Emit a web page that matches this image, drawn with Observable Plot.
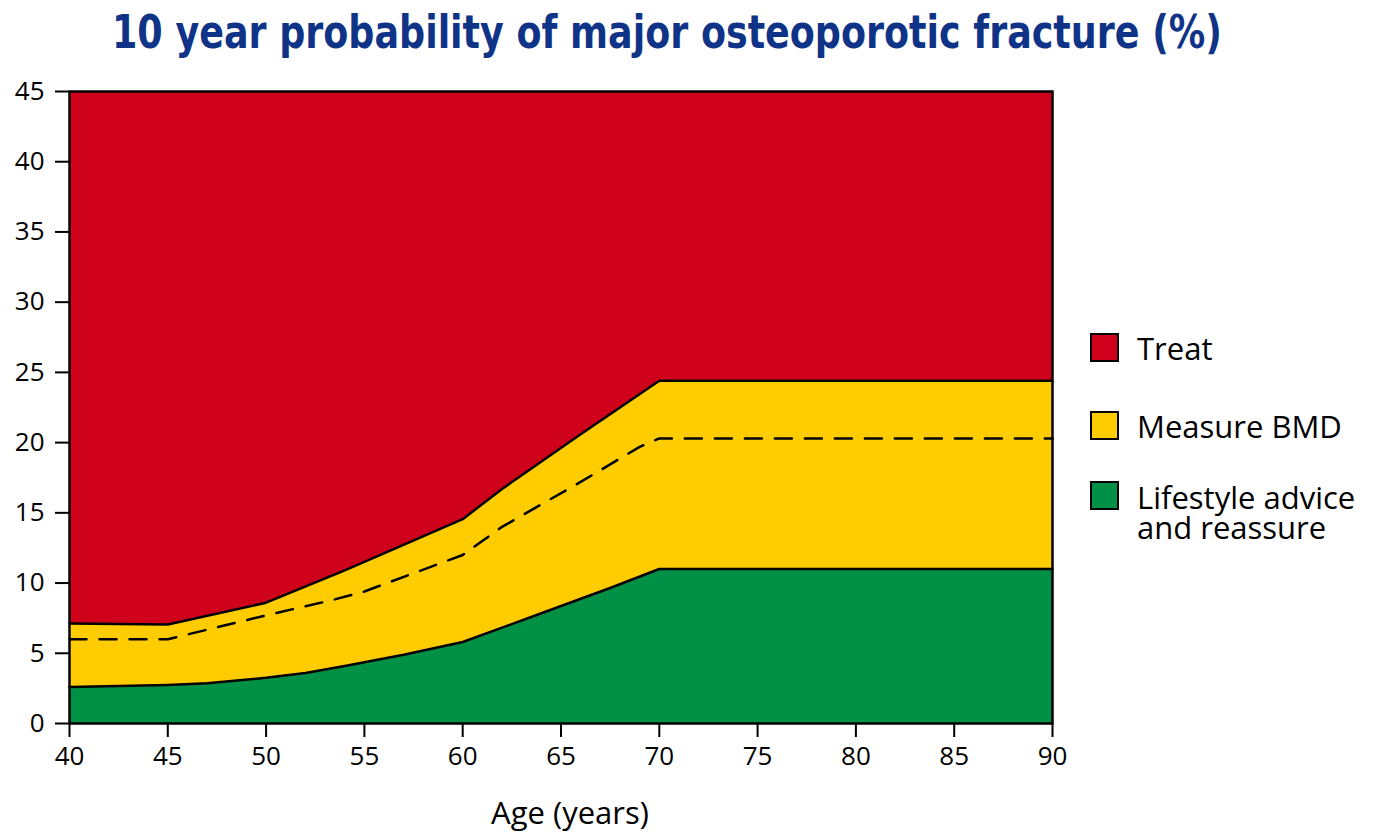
<!DOCTYPE html>
<html>
<head>
<meta charset="utf-8">
<script src="https://cdn.jsdelivr.net/npm/d3@7"></script>
<script src="https://cdn.jsdelivr.net/npm/@observablehq/plot@0.6"></script>
<style>
  html, body { margin: 0; padding: 0; background: #fff; }
  #wrap { position: relative; width: 1385px; height: 834px; overflow: hidden; }
  #wrap svg { position: absolute; left: 0; top: 0; }
</style>
</head>
<body>
<div id="wrap"></div>
<script>
// ---- data ----
const lowerAges = [40, 45, 47, 50, 52, 54, 57, 60, 64, 67.5, 70, 90];
const lowerVals = [2.6, 2.75, 2.87, 3.25, 3.6, 4.1, 4.9, 5.8, 7.85, 9.65, 11.0, 11.0];

const upperAges = [40, 45, 50, 54, 60, 62, 66, 70, 90];
const upperVals = [7.12, 7.05, 8.6, 10.9, 14.55, 16.7, 20.6, 24.4, 24.4];

const dashAges = [40, 45, 50, 53.4, 55, 60, 62, 66, 69, 70, 90];
const dashVals = [6.0, 6.0, 7.7, 8.8, 9.4, 12.0, 14.0, 17.2, 19.7, 20.3, 20.3];

const xTicks = [40, 45, 50, 55, 60, 65, 70, 75, 80, 85, 90];
const yTicks = [0, 5, 10, 15, 20, 25, 30, 35, 40, 45];

const categories = ["Treat", "Measure BMD", "Lifestyle advice\nand reassure"];
const colors = ["#D0021B", "#FFCC00", "#009046"];

const titleText = "10 year probability of major osteoporotic fracture (%)";
const xLabel = "Age (years)";

// ---- build ----
const lower = lowerAges.map((a, i) => ({age: a, v: lowerVals[i]}));
const upper = upperAges.map((a, i) => ({age: a, v: upperVals[i]}));
const dashed = dashAges.map((a, i) => ({age: a, v: dashVals[i]}));

const chart = Plot.plot({
  width: 1385,
  height: 834,
  marginTop: 91,
  marginLeft: 69,
  marginRight: 333,
  marginBottom: 111,
  x: {domain: [40, 90]},
  y: {domain: [0, 45]},
  style: {fontFamily: "'Open Sans', sans-serif", fontSize: "25px", color: "#000", background: "transparent"},
  marks: [
    Plot.frame({fill: colors[0]}),
    Plot.areaY(upper, {x: "age", y: "v", fill: colors[1]}),
    Plot.areaY(lower, {x: "age", y: "v", fill: colors[2]}),
    Plot.line(upper, {x: "age", y: "v", stroke: "#000", strokeWidth: 2.5}),
    Plot.line(lower, {x: "age", y: "v", stroke: "#000", strokeWidth: 2.5}),
    Plot.line(dashed, {x: "age", y: "v", stroke: "#000", strokeWidth: 2.5, strokeDasharray: "17,13"}),
    Plot.frame({stroke: "#000", strokeWidth: 2.5}),
    Plot.axisX({ticks: xTicks, tickSize: 14, tickPadding: 9, label: null, fontSize: 26, strokeWidth: 2}),
    Plot.axisY({ticks: yTicks, tickSize: 14, tickPadding: 11, label: null, fontSize: 26, strokeWidth: 2})
  ]
});
document.getElementById("wrap").appendChild(chart);

// ---- overlay: title, axis label, legend ----
const svg = d3.select("#wrap").append("svg")
  .attr("width", 1385).attr("height", 834);

svg.append("text")
  .attr("x", 112).attr("y", 48)
  .attr("text-anchor", "start")
  .attr("textLength", 1110)
  .attr("lengthAdjust", "spacingAndGlyphs")
  .attr("font-family", "'DejaVu Sans Condensed', 'Liberation Sans Narrow', sans-serif")
  .attr("font-weight", "bold")
  .attr("font-size", 46)
  .attr("fill", "#0F3487")
  .text(titleText);

svg.append("text")
  .attr("x", 570).attr("y", 824)
  .attr("text-anchor", "middle")
  .attr("font-family", "'Open Sans', sans-serif")
  .attr("font-size", 31)
  .attr("fill", "#000")
  .text(xLabel);

const boxTops = [334, 412, 482];
const baselines = [360, 438, 509];
categories.forEach((c, i) => {
  svg.append("rect")
    .attr("x", 1091).attr("y", boxTops[i])
    .attr("width", 27).attr("height", 27)
    .attr("fill", colors[i]).attr("stroke", "#000").attr("stroke-width", 2);
  const t = svg.append("text")
    .attr("x", 1137).attr("y", baselines[i])
    .attr("font-family", "'Open Sans', sans-serif")
    .attr("font-size", 31)
    .attr("fill", "#000");
  c.split("\n").forEach((line, j) => {
    t.append("tspan").attr("x", 1137).attr("dy", j === 0 ? 0 : 30).text(line);
  });
});
</script>
</body>
</html>
